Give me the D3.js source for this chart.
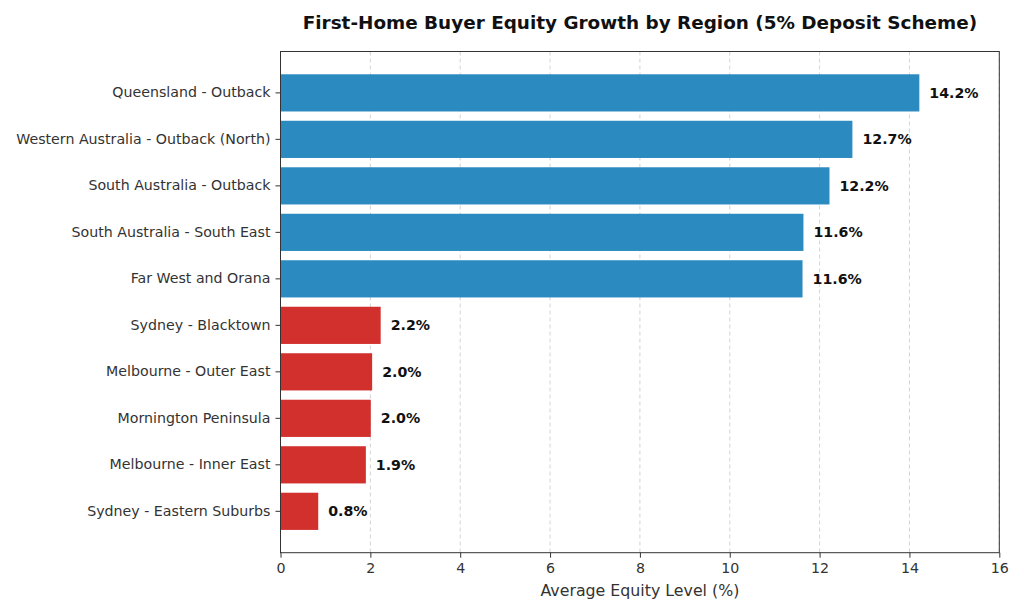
<!DOCTYPE html>
<html>
<head>
<meta charset="utf-8">
<script src="https://cdn.jsdelivr.net/npm/d3@7"></script>
<style>
  body { margin: 0; background: #fff; }
  text { font-family: "DejaVu Sans", sans-serif; }
</style>
</head>
<body>
<div id="chart"></div>
<script>
// data (bar lengths estimated, labels are rounded to 1 dp)
var regions = ["Queensland - Outback", "Western Australia - Outback (North)", "South Australia - Outback",
               "South Australia - South East", "Far West and Orana", "Sydney - Blacktown",
               "Melbourne - Outer East", "Mornington Peninsula", "Melbourne - Inner East", "Sydney - Eastern Suburbs"];
var equity = [14.22, 12.73, 12.22, 11.64, 11.62, 2.23, 2.04, 2.01, 1.90, 0.84];
var group = ["high", "high", "high", "high", "high", "low", "low", "low", "low", "low"];
var xTicks = [0, 2, 4, 6, 8, 10, 12, 14, 16];

var cfg = { width: 1024, height: 614, left: 280.5, right: 999.3, top: 51.5, bottom: 552.7 };
var colors = { high: "#2B8AC0", low: "#D2302D" };

var svg = d3.select("#chart").append("svg")
    .attr("width", cfg.width)
    .attr("height", cfg.height);

var x = d3.scaleLinear().domain([0, 16]).range([cfg.left, cfg.right]);
var y = d3.scaleBand().domain(regions).range([cfg.top, cfg.bottom])
    .paddingInner(0.2).paddingOuter(0.49);

// grid
svg.selectAll(".grid").data(xTicks).enter().append("line")
    .attr("x1", function(d) { return x(d); })
    .attr("x2", function(d) { return x(d); })
    .attr("y1", cfg.top).attr("y2", cfg.bottom)
    .style("stroke", "#c8c8c8")
    .style("stroke-width", 0.8)
    .style("stroke-dasharray", "4, 3");

// bars
svg.selectAll(".bar").data(regions).enter().append("rect")
    .attr("x", x(0))
    .attr("y", function(d) { return y(d); })
    .attr("width", function(d, i) { return x(equity[i]) - x(0); })
    .attr("height", y.bandwidth())
    .style("fill", function(d, i) { return colors[group[i]]; });

// value labels
svg.selectAll(".val").data(regions).enter().append("text")
    .attr("x", function(d, i) { return x(equity[i]) + 10; })
    .attr("y", function(d) { return y(d) + y.bandwidth() / 2; })
    .attr("dy", "0.35em")
    .style("font-size", "14.2px")
    .style("font-weight", "bold")
    .style("fill", "#111")
    .text(function(d, i) { return equity[i].toFixed(1) + "%"; });

// frame
svg.append("rect")
    .attr("x", cfg.left).attr("y", cfg.top)
    .attr("width", cfg.right - cfg.left).attr("height", cfg.bottom - cfg.top)
    .style("fill", "none").style("stroke", "#333").style("stroke-width", 1);

// axes
var xAxis = svg.append("g")
    .attr("transform", "translate(0," + cfg.bottom + ")")
    .call(d3.axisBottom(x).tickValues(xTicks).tickSize(5).tickPadding(5).tickSizeOuter(0));
var yAxis = svg.append("g")
    .attr("transform", "translate(" + cfg.left + ",0)")
    .call(d3.axisLeft(y).tickSize(5).tickPadding(5).tickSizeOuter(0));

[xAxis, yAxis].forEach(function(g) {
  g.select(".domain").remove();
  g.selectAll("line").style("stroke", "#333");
  g.selectAll("text")
    .style("font-family", "'DejaVu Sans', sans-serif")
    .style("font-size", "14.2px")
    .style("fill", "#333");
});

// title + axis label
svg.append("text")
    .attr("x", (cfg.left + cfg.right) / 2)
    .attr("y", 29)
    .attr("text-anchor", "middle")
    .style("font-size", "18.4px")
    .style("font-weight", "bold")
    .style("fill", "#111")
    .text("First-Home Buyer Equity Growth by Region (5% Deposit Scheme)");

svg.append("text")
    .attr("x", (cfg.left + cfg.right) / 2)
    .attr("y", 596)
    .attr("text-anchor", "middle")
    .style("font-size", "15.8px")
    .style("fill", "#333")
    .text("Average Equity Level (%)");
</script>
</body>
</html>
